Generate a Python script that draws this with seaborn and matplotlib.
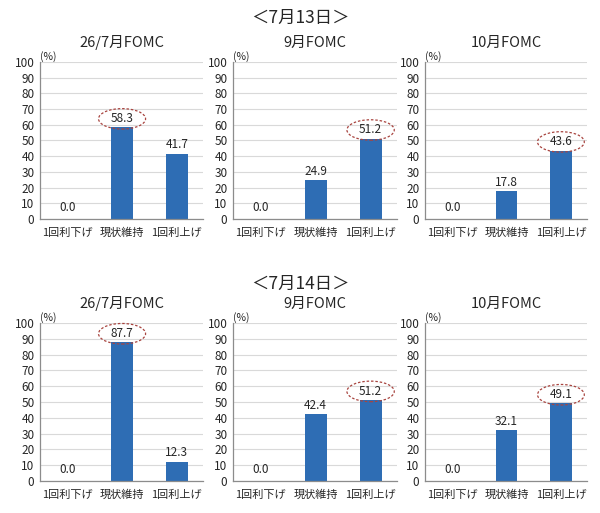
import pandas as pd
import seaborn as sns
import matplotlib.pyplot as plt
from matplotlib.patches import Ellipse

# Data
categories = ['1回利下げ', '現状維持', '1回利上げ']
meetings = ['26/7月FOMC', '9月FOMC', '10月FOMC']
dates = ['＜7月13日＞', '＜7月14日＞']

jul13_jul = [0.0, 58.3, 41.7]
jul13_sep = [0.0, 24.9, 51.2]
jul13_oct = [0.0, 17.8, 43.6]
jul14_jul = [0.0, 87.7, 12.3]
jul14_sep = [0.0, 42.4, 51.2]
jul14_oct = [0.0, 32.1, 49.1]

# which bar carries the dashed circle
highlight = [[1, 2, 2], [1, 2, 2]]

values = [[jul13_jul, jul13_sep, jul13_oct],
          [jul14_jul, jul14_sep, jul14_oct]]

sns.set_style('white')
plt.rcParams['font.family'] = ['Noto Sans CJK JP', 'DejaVu Sans']

BAR = '#2e6db4'
GRID = '#d9d9d9'
AXIS = '#8c8c8c'
RING = '#a8443f'

fig = plt.figure(figsize=(6.0, 5.13), dpi=100)

W, H = 600, 513
lefts = [40, 233, 425]
widths = [163, 164, 162]
tops = [62, 323]
bottoms = [219, 481]

for r in range(2):
    fig.text(0.5, 1 - (18 if r == 0 else 284) / H, dates[r],
             ha='center', va='center', fontsize=12.5)
    for c in range(3):
        ax = fig.add_axes([lefts[c] / W, 1 - bottoms[r] / H,
                           widths[c] / W, (bottoms[r] - tops[r]) / H])
        df = pd.DataFrame({'cat': categories, 'val': values[r][c]})
        sns.barplot(data=df, x='cat', y='val', ax=ax, color=BAR,
                    width=0.4, saturation=1, edgecolor='none')
        ax.set_xlim(-0.5, 2.48)
        ax.set_ylim(0, 100)
        ax.set_yticks(range(0, 101, 10))
        ax.yaxis.grid(True, color=GRID, lw=0.8)
        ax.set_axisbelow(True)
        for s in ['top', 'right']:
            ax.spines[s].set_visible(False)
        for s in ['left', 'bottom']:
            ax.spines[s].set_color(AXIS)
            ax.spines[s].set_linewidth(0.9)
        ax.tick_params(axis='y', length=3, color=AXIS, labelsize=8.5, pad=1)
        ax.tick_params(axis='x', length=0, labelsize=8, pad=6)
        ax.set_xlabel('')
        ax.set_ylabel('')
        ax.set_title(meetings[c], fontsize=10.5, pad=11)
        ax.text(0.0, 1.0, '(%)', transform=ax.transAxes, fontsize=7.5,
                ha='left', va='bottom')

        for i, v in enumerate(values[r][c]):
            ty = v + 1.5 if v > 0 else 3
            ax.text(i, ty, f'{v:.1f}', ha='center', va='bottom', fontsize=8.5)
            if i == highlight[r][c]:
                ax.add_patch(Ellipse((i, v + 5.5), 0.86, 13, fill=False,
                                     ls=(0, (2, 1.5)), lw=0.9, color=RING,
                                     clip_on=False, zorder=5))

fig.savefig('out.png', dpi=100)
